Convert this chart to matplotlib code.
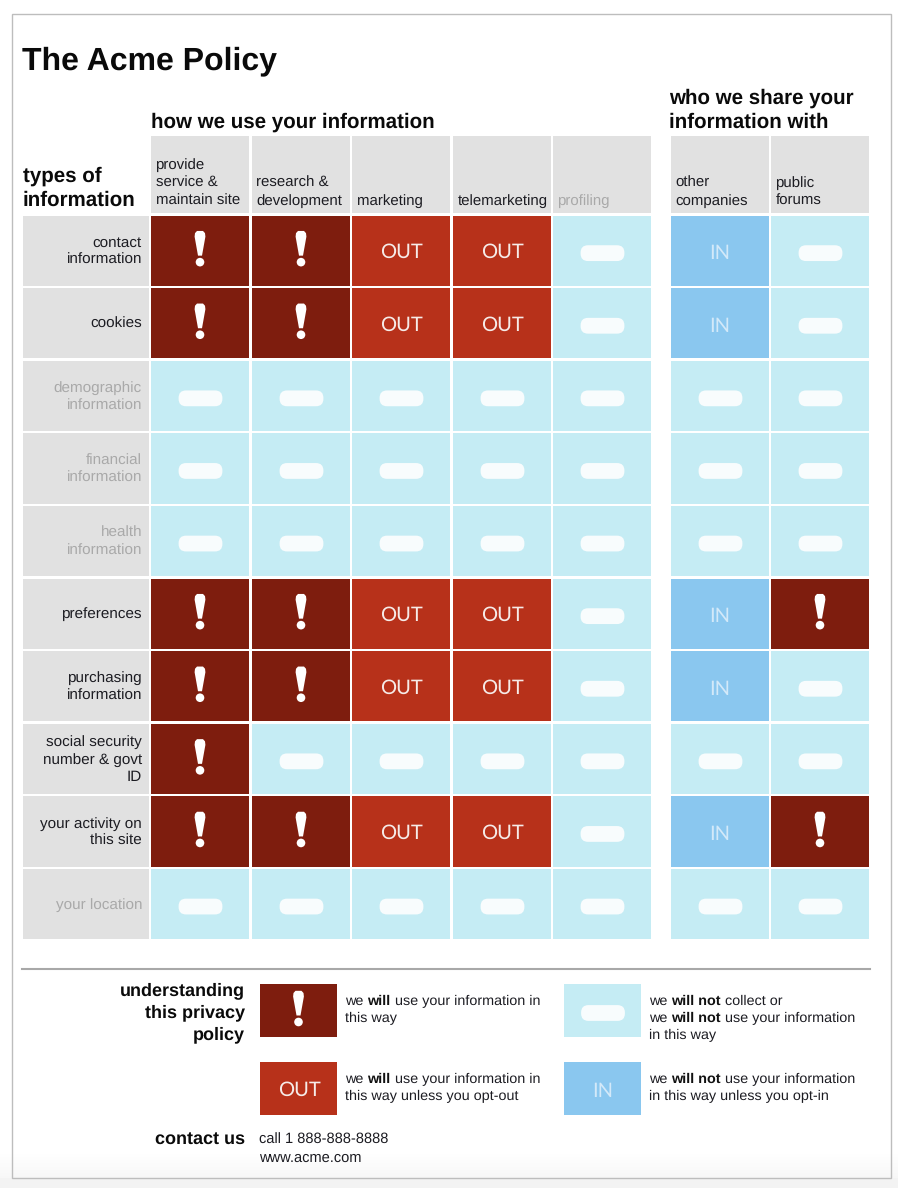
import numpy as np
import matplotlib
matplotlib.use('Agg')
import matplotlib.pyplot as plt
from matplotlib.patches import Rectangle, Polygon, Circle, FancyBboxPatch

plt.rcParams['font.family'] = ['Liberation Sans', 'DejaVu Sans']
plt.rcParams['text.hinting'] = 'no_hinting'

W, H = 898, 1188

# data
row_labels = ['contact\ninformation', 'cookies', 'demographic\ninformation',
              'financial\ninformation', 'health\ninformation', 'preferences',
              'purchasing\ninformation', 'social security\nnumber & govt\nID',
              'your activity on\nthis site', 'your location']
row_active = [1, 1, 0, 0, 0, 1, 1, 1, 1, 0]
col_labels = ['provide\nservice &\nmaintain site', 'research &\ndevelopment', 'marketing',
              'telemarketing', 'profiling', 'other\ncompanies', 'public\nforums']
col_active = [1, 1, 1, 1, 0, 1, 1]
# W will use, O opt out, I opt in, N not collected
cells = ['WWOONIN',
         'WWOONIN',
         'NNNNNNN',
         'NNNNNNN',
         'NNNNNNN',
         'WWOONIW',
         'WWOONIN',
         'WNNNNNN',
         'WWOONIW',
         'NNNNNNN']
legend_texts = {
    'W': [[('we ', 0), ('will', 1), (' use your information in', 0)], [('this way', 0)]],
    'O': [[('we ', 0), ('will', 1), (' use your information in', 0)], [('this way unless you opt-out', 0)]],
    'N': [[('we ', 0), ('will not', 1), (' collect or', 0)],
          [('we ', 0), ('will not', 1), (' use your information', 0)], [('in this way', 0)]],
    'I': [[('we ', 0), ('will not', 1), (' use your information', 0)], [('in this way unless you opt-in', 0)]],
}

colors = {'W': '#7e1d0e', 'O': '#b7311a', 'N': '#c5ecf4', 'I': '#8ac7ef'}
GREY = '#e1e1e1'
INK = '#1c1c22'

fig = plt.figure(figsize=(W / 100, H / 100), dpi=100)
ax = fig.add_axes([0, 0, 1, 1])
ax.axis('off')

# page
grad = np.ones((H, 1))
grad[1150:, 0] = np.linspace(1, 0.955, H - 1150)
grad[1178:, 0] = 0.955
ax.imshow(grad, extent=[0, W, H, 0], cmap='gray', vmin=0, vmax=1, aspect='auto', zorder=0)
ax.set_xlim(0, W)
ax.set_ylim(H, 0)
ax.add_patch(Rectangle((11.5, 13.5), 879, 1164, fill=False, ec='#bdbdbd', lw=1, zorder=1))


def bang(cx, cy):
    # exclamation mark centred on the cell
    ax.add_patch(Polygon([(cx - 5.4, cy - 12), (cx - 5, cy - 15.5), (cx - 3, cy - 17.7), (cx + 3, cy - 17.7),
                          (cx + 5, cy - 15.5), (cx + 5.4, cy - 12), (cx + 2, cy + 7), (cx - 2, cy + 7)],
                         closed=True, fc='white', ec='none', zorder=4))
    ax.add_patch(Circle((cx, cy + 13.5), 4.3, fc='white', ec='none', zorder=4))


def pill(cx, cy):
    ax.add_patch(FancyBboxPatch((cx - 14.5, cy - 0.5), 29, 1, boxstyle='round,pad=7.4,rounding_size=7.4',
                                fc='#f8fcfd', ec='none', zorder=3))


def mark(code, x0, y0, w, h):
    ax.add_patch(Rectangle((x0, y0), w, h, fc=colors[code], ec='none', zorder=2))
    cx = x0 + w / 2
    cy = y0 + h / 2
    if code == 'W':
        bang(cx, cy - 2)
    elif code == 'N':
        pill(cx + 0.5, cy + 2.5)
    elif code == 'O':
        ax.text(cx + 0.7, cy + 1.5, 'OUT', color='#f6ebe8', family='Lato', fontsize=14.5, ha='center', va='center', zorder=4)
    elif code == 'I':
        ax.text(cx, cy + 3, 'IN', color='#d3e9f9', family='Lato', fontsize=14.5, ha='center', va='center', zorder=4)


col_x = [151, 252, 352, 453, 553, 671, 771]
col_w = 98
row_y0, row_pitch, row_h = 215.5, 72.6, 70.3

# headers
for j, lab in enumerate(col_labels):
    ax.add_patch(Rectangle((col_x[j], 136), col_w, 77, fc=GREY, ec='none', zorder=2))
    ax.text(col_x[j] + 4.5, 208, lab, fontsize=10.8, linespacing=1.35, ha='left', va='bottom',
            color=INK if col_active[j] else '#a9a9a9', zorder=3)

# grid
for i, lab in enumerate(row_labels):
    y = row_y0 + i * row_pitch
    ax.add_patch(Rectangle((23, y), 126, row_h, fc=GREY, ec='none', zorder=2))
    ax.text(142, y + 36, lab, fontsize=11, linespacing=1.33, ha='right',
            va='center', color=INK if row_active[i] else '#a9a9a9', zorder=3)
    for j in range(len(col_labels)):
        mark(cells[i][j], col_x[j], y, col_w, row_h)

# titles
ax.text(22, 61, 'The Acme Policy', fontsize=23, fontweight='bold', color='#0a0a0a', va='center')
ax.text(151, 122.5, 'how we use your information', fontsize=14.8, fontweight='bold', color='#0a0a0a', va='center')
ax.text(669, 110.5, 'who we share your\ninformation with', fontsize=14.8, fontweight='bold', color='#0a0a0a',
        va='center', linespacing=1.33)
ax.text(23, 188.5, 'types of\ninformation', fontsize=14.8, fontweight='bold', color='#0a0a0a', va='center',
        linespacing=1.3)

# footer
ax.plot([22, 870], [968.5, 968.5], color='#a8a8a8', lw=1.5, zorder=2)
ax.text(245, 1012.5, 'understanding\nthis privacy\npolicy', fontsize=13, fontweight='bold', color='#0a0a0a',
        ha='right', va='center', linespacing=1.38)
ax.text(245, 1139.5, 'contact us', fontsize=13, fontweight='bold', color='#0a0a0a', ha='right', va='center')
ax.text(259, 1149, 'call 1 888-888-8888\nwww.acme.com', fontsize=10.5, color=INK, ha='left', va='center',
        linespacing=1.32)

renderer = fig.canvas.get_renderer()


def rich_line(x, y, parts):
    # mixed regular and bold runs on one baseline
    for s, bold in parts:
        t = ax.text(x, y, s.replace(' ', '\u00a0'), fontsize=10.4, color='#111111' if bold else INK,
                    fontweight='bold' if bold else 'normal', va='baseline', zorder=3)
        x = ax.transData.inverted().transform(t.get_window_extent(renderer))[1, 0]


legend_pos = {'W': (260, 984), 'O': (260, 1062), 'N': (564, 984), 'I': (564, 1062)}
for code, (x0, y0) in legend_pos.items():
    mark(code, x0, y0, 77, 53)
    for k, parts in enumerate(legend_texts[code]):
        rich_line(x0 + 85, y0 + 21 + k * 17, parts)

fig.savefig('out.png', dpi=100)
